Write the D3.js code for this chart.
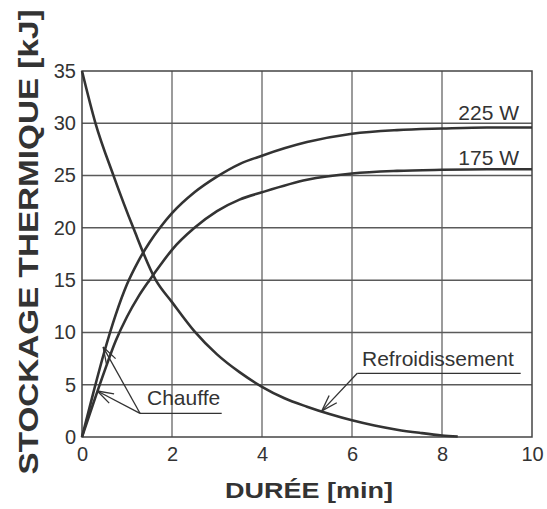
<!DOCTYPE html>
<html>
<head>
<meta charset="utf-8">
<script src="https://cdn.jsdelivr.net/npm/d3@7"></script>
<style>
  html, body { margin: 0; padding: 0; background: #fff; }
  svg { display: block; }
  text { font-family: "Liberation Sans", Arial, sans-serif; fill: #333; }
</style>
</head>
<body>
<svg id="chart" width="547" height="509"></svg>
<script>
// ---- Data ----
const xTicks = [0, 2, 4, 6, 8, 10];
const yTicks = [0, 5, 10, 15, 20, 25, 30, 35];

const time225 = [0, 0.25, 0.5, 0.75, 1, 1.25, 1.5, 1.75, 2, 2.5, 3, 3.5, 4, 5, 6, 7, 8, 9, 10];
const kj225   = [0, 4.2, 8.2, 11.7, 14.6, 16.8, 18.6, 20.1, 21.4, 23.4, 24.9, 26.1, 26.9, 28.2, 29.0, 29.35, 29.5, 29.6, 29.6];

const time175 = [0, 0.25, 0.5, 0.75, 1, 1.25, 1.5, 1.75, 2, 2.5, 3, 3.5, 4, 5, 6, 7, 8, 9, 10];
const kj175   = [0, 3.2, 6.3, 9.2, 11.5, 13.4, 15.0, 16.5, 17.9, 20.0, 21.6, 22.7, 23.4, 24.6, 25.2, 25.45, 25.55, 25.6, 25.6];

const timeCool = [0, 0.3, 0.7, 1.14, 1.64, 2, 2.5, 3, 3.5, 4, 4.5, 5, 5.5, 6, 6.5, 7, 7.5, 8, 8.35];
const kjCool   = [35, 30, 25, 20, 15, 12.9, 10.1, 7.9, 6.2, 4.8, 3.7, 2.9, 2.2, 1.6, 1.1, 0.7, 0.4, 0.15, 0.05];

const seriesLabels = ["225 W", "175 W"];
const labelHeat = "Chauffe";
const labelCool = "Refroidissement";
const xTitle = "DURÉE [min]";
const yTitle = "STOCKAGE THERMIQUE [kJ]";

// ---- Layout ----
const svg = d3.select("#chart");
const x = d3.scaleLinear().domain([0, 10]).range([82, 532]);
const y = d3.scaleLinear().domain([0, 35]).range([437, 71]);

// grid
const g = svg.append("g");
g.selectAll("line.v").data(xTicks.slice(1, -1)).enter().append("line")
  .attr("x1", d => x(d)).attr("x2", d => x(d))
  .attr("y1", y(0)).attr("y2", y(35))
  .attr("stroke", "#7a7a7a").attr("stroke-width", 1.5);
g.selectAll("line.h").data(yTicks.slice(1, -1)).enter().append("line")
  .attr("x1", x(0)).attr("x2", x(10))
  .attr("y1", d => y(d)).attr("y2", d => y(d))
  .attr("stroke", "#5a5a5a").attr("stroke-width", 1.5);

// frame
svg.append("rect")
  .attr("x", x(0)).attr("y", y(35))
  .attr("width", x(10) - x(0)).attr("height", y(0) - y(35))
  .attr("fill", "none").attr("stroke", "#444").attr("stroke-width", 1.5);

// axes (tick labels only)
const xAxis = d3.axisBottom(x).tickValues(xTicks).tickSize(0).tickPadding(10);
const yAxis = d3.axisLeft(y).tickValues(yTicks).tickSize(0).tickPadding(6);
const gx = svg.append("g").attr("transform", `translate(0,${y(0)})`).call(xAxis);
const gy = svg.append("g").attr("transform", `translate(${x(0)},0)`).call(yAxis);
[gx, gy].forEach(a => {
  a.select(".domain").remove();
  a.selectAll("text").attr("font-size", 20).attr("fill", "#333")
    .attr("font-family", "'Liberation Sans', Arial, sans-serif");
});

// curves
const line = d3.line().x(d => x(d[0])).y(d => y(d[1])).curve(d3.curveMonotoneX);
const curves = [
  d3.zip(time225, kj225),
  d3.zip(time175, kj175),
  d3.zip(timeCool, kjCool)
];
svg.selectAll("path.curve").data(curves).enter().append("path")
  .attr("d", line).attr("fill", "none")
  .attr("stroke", "#333").attr("stroke-width", 2.6);

// series labels
svg.append("text").attr("x", 519).attr("y", 120).attr("text-anchor", "end")
  .attr("font-size", 21).text(seriesLabels[0]);
svg.append("text").attr("x", 519).attr("y", 164.5).attr("text-anchor", "end")
  .attr("font-size", 21).text(seriesLabels[1]);

// annotation helper: leader line + open arrowhead
function arrow(x0, y0, x1, y1) {
  svg.append("line").attr("x1", x0).attr("y1", y0).attr("x2", x1).attr("y2", y1)
    .attr("stroke", "#333").attr("stroke-width", 1.3);
  const ang = Math.atan2(y0 - y1, x0 - x1);
  const L = 17, a = 18 * Math.PI / 180;
  [ang - a, ang + a].forEach(t => {
    svg.append("line").attr("x1", x1).attr("y1", y1)
      .attr("x2", x1 + L * Math.cos(t)).attr("y2", y1 + L * Math.sin(t))
      .attr("stroke", "#333").attr("stroke-width", 1.3);
  });
}

// Chauffe
const hx = 140, hy = 413.3;
svg.append("line").attr("x1", hx).attr("y1", hy).attr("x2", 221.7).attr("y2", hy)
  .attr("stroke", "#333").attr("stroke-width", 1.3);
arrow(hx, hy, x(0.47), y(8.6));
arrow(hx, hy, x(0.34), y(4.4));
svg.append("text").attr("x", 147).attr("y", 405).attr("font-size", 21).text(labelHeat);

// Refroidissement
const cx0 = 357.3, cy0 = 373.3;
svg.append("line").attr("x1", cx0).attr("y1", cy0).attr("x2", 520.7).attr("y2", cy0)
  .attr("stroke", "#333").attr("stroke-width", 1.3);
arrow(cx0, cy0, x(5.33), y(2.5));
svg.append("text").attr("x", 362).attr("y", 366).attr("font-size", 21).text(labelCool);

// axis titles
svg.append("text").attr("x", 309).attr("y", 497.5).attr("text-anchor", "middle")
  .attr("font-size", 22).attr("font-weight", "bold")
  .attr("textLength", 168).attr("lengthAdjust", "spacingAndGlyphs")
  .text(xTitle);
svg.append("text").attr("transform", `translate(37.5,242) rotate(-90)`)
  .attr("text-anchor", "middle")
  .attr("font-size", 28).attr("font-weight", "bold")
  .attr("textLength", 465).attr("lengthAdjust", "spacingAndGlyphs")
  .text(yTitle);
</script>
</body>
</html>
